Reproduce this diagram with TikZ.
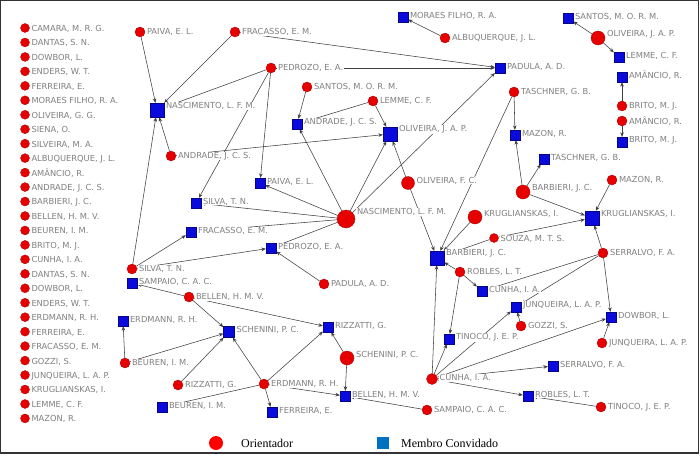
\documentclass[tikz,border=0pt]{standalone}
\usepackage{fontspec}
\setmainfont{DejaVu Sans}
\newfontfamily\legendfont{Liberation Serif}
\usetikzlibrary{arrows.meta}
\pgfdeclarelayer{bglayer}
\pgfdeclarelayer{edgelayer}
\pgfdeclarelayer{labellayer}
\pgfsetlayers{bglayer,edgelayer,labellayer,main}
\definecolor{nodered}{HTML}{E60000}
\definecolor{nodeblue}{HTML}{0A0ADC}
\definecolor{lblgray}{HTML}{808080}
\definecolor{edgegray}{HTML}{404040}
\definecolor{legblue}{HTML}{0070C0}
\tikzset{
  rdot/.style={circle, fill=nodered, draw=nodered!70!black, line width=0.3pt, inner sep=0pt},
  bsq/.style={rectangle, fill=nodeblue, draw=nodeblue!60!black, line width=0.3pt, inner sep=0pt},
  lbl/.style={anchor=west, fill=white, text=lblgray, font=\fontsize{8.3}{9}\selectfont, inner xsep=0.8pt, inner ysep=0.3pt},
  link/.style={draw=edgegray, line width=0.55pt, -{Stealth[length=4.5pt,width=3.6pt]}},
  legtext/.style={anchor=west, inner sep=0pt, font=\legendfont\fontsize{12}{14}\selectfont},
}
\newcommand\Rv[5]{\node[rdot, minimum size=#4*2pt] (#1) at (#2,#3) {};
  \begin{pgfonlayer}{labellayer}\node[lbl] (#1-l) at ({#2+#4+1},{#3-1.7*(#4-5)}) {#5};\end{pgfonlayer}}
\newcommand\Bv[5]{\node[bsq, minimum size=#4pt] (#1) at (#2,#3) {};
  \begin{pgfonlayer}{labellayer}\node[lbl] (#1-l) at ({#2+#4/2+1},{#3-1.5-0.7*(#4-10)}) {#5};\end{pgfonlayer}}
\begin{document}
\begin{tikzpicture}[x=1pt,y=-1pt]
\useasboundingbox (0,0) rectangle (700,457);
\begin{pgfonlayer}{bglayer}
\fill[white] (0,0) rectangle (700,457);
\end{pgfonlayer}
\draw[black!80, line width=1.4pt] (0.7,0.7) rectangle (698.3,453);
% left column
\foreach \t [count=\i from 0] in {{CAMARA, M. R. G.},{DANTAS, S. N.},{DOWBOR, L.},{ENDERS, W. T.},{FERREIRA, E.},{MORAES FILHO, R. A.},{OLIVEIRA, G. G.},{SIENA, O.},{SILVEIRA, M. A.},{ALBUQUERQUE, J. L.},{AMÂNCIO, R.},{ANDRADE, J. C. S.},{BARBIERI, J. C.},{BELLEN, H. M. V.},{BEUREN, I. M.},{BRITO, M. J.},{CUNHA, I. A.},{DANTAS, S. N.},{DOWBOR, L.},{ENDERS, W. T.},{ERDMANN, R. H.},{FERREIRA, E.},{FRACASSO, E. M.},{GOZZI, S.},{JUNQUEIRA, L. A. P.},{KRUGLIANSKAS, I.},{LEMME, C. F.},{MAZON, R.}}
  {\Rv{L\i}{25}{28+14.46*\i}{4.5}{\t}}
% red nodes
\Rv{rPaiva}{140}{32}{5}{PAIVA, E. L.}
\Rv{rFracasso}{235}{32}{5}{FRACASSO, E. M.}
\Rv{rPedrozo}{271}{68}{5}{PEDROZO, E. A.}
\Rv{rAlbu}{445}{38}{5}{ALBUQUERQUE, J. L.}
\Rv{rSantos}{307}{87}{5}{SANTOS, M. O. R. M.}
\Rv{rLemme}{373}{101}{5}{LEMME, C. F.}
\Rv{rAndrade}{171}{156}{5}{ANDRADE, J. C. S.}
\Rv{rNasc}{346}{219}{9}{NASCIMENTO, L. F. M.}
\Rv{rOlivFC}{408}{183}{6.5}{OLIVEIRA, F. C.}
\Rv{rSilva}{132}{269}{5}{SILVA, T. N.}
\Rv{rPadula}{324}{284}{5}{PADULA, A. D.}
\Rv{rBellen}{189}{297}{5}{BELLEN, H. M. V.}
\Rv{rBeuren}{125}{363}{5}{BEUREN, I. M.}
\Rv{rRizz}{178}{385}{5}{RIZZATTI, G.}
\Rv{rErd}{264}{384}{5}{ERDMANN, R. H.}
\Rv{rSchen}{347}{358}{7}{SCHENINI, P. C.}
\Rv{rSampaio}{427}{410}{5}{SAMPAIO, C. A. C.}
\Rv{rOlivJAP}{598}{38}{7}{OLIVEIRA, J. A. P.}
\Rv{rBrito}{622}{106}{5}{BRITO, M. J.}
\Rv{rAmancio}{622}{121}{5}{AMÂNCIO, R.}
\Rv{rTaschner}{514}{92}{5}{TASCHNER, G. B.}
\Rv{rBarbieri}{523}{192}{7}{BARBIERI, J. C.}
\Rv{rMazon}{612}{180}{5}{MAZON, R.}
\Rv{rKrug}{475}{217}{7}{KRUGLIANSKAS, I.}
\Rv{rSouza}{494}{238}{4.5}{SOUZA, M. T. S.}
\Rv{rRobles}{460}{272}{5}{ROBLES, L. T.}
\Rv{rSerralvo}{603}{253}{5}{SERRALVO, F. A.}
\Rv{rGozzi}{521}{326}{5}{GOZZI, S.}
\Rv{rJunq}{602}{343}{5}{JUNQUEIRA, L. A. P.}
\Rv{rCunha}{432}{379}{5.5}{CUNHA, I. A.}
\Rv{rTinoco}{601}{407}{5}{TINOCO, J. E. P.}
% blue nodes
\Bv{bNasc}{157}{110}{14}{NASCIMENTO, L. F. M.}
\Bv{bMoraes}{403}{17}{10}{MORAES FILHO, R. A.}
\Bv{bPadula}{500}{68}{10}{PADULA, A. D.}
\Bv{bAndrade}{297}{124}{10}{ANDRADE, J. C. S.}
\Bv{bOlivJAP}{390}{134}{14}{OLIVEIRA, J. A. P.}
\Bv{bPaiva}{260}{183}{10}{PAIVA, E. L.}
\Bv{bSilva}{196}{203}{10}{SILVA, T. N.}
\Bv{bFracasso}{191}{232}{10}{FRACASSO, E. M.}
\Bv{bPedrozo}{271}{248}{10}{PEDROZO, E. A.}
\Bv{bSampaio}{132}{283}{10}{SAMPAIO, C. A. C.}
\Bv{bErd}{123}{321}{10}{ERDMANN, R. H.}
\Bv{bSchen}{229}{332}{11}{SCHENINI, P. C.}
\Bv{bRizz}{328}{327}{10}{RIZZATTI, G.}
\Bv{bBeuren}{162}{407}{10}{BEUREN, I. M.}
\Bv{bFerreira}{272}{412}{10}{FERREIRA, E.}
\Bv{bBellen}{345}{396}{10}{BELLEN, H. M. V.}
\Bv{bSantos}{568}{18}{10}{SANTOS, M. O. R. M.}
\Bv{bLemme}{619}{57}{10}{LEMME, C. F.}
\Bv{bAmancio}{622}{77}{10}{AMÂNCIO, R.}
\Bv{bBrito}{622}{142}{10}{BRITO, M. J.}
\Bv{bMazon}{515}{135}{10}{MAZON, R.}
\Bv{bTaschner}{544}{159}{10}{TASCHNER, G. B.}
\Bv{bKrug}{592}{218}{14}{KRUGLIANSKAS, I.}
\Bv{bBarbieri}{437}{258}{14}{BARBIERI, J. C.}
\Bv{bCunha}{482}{291}{10}{CUNHA, I. A.}
\Bv{bJunq}{516}{307}{10}{JUNQUEIRA, L. A. P.}
\Bv{bDowbor}{611}{317}{10}{DOWBOR, L.}
\Bv{bTinoco}{449}{339}{10}{TINOCO, J. E. P.}
\Bv{bSerralvo}{553}{366}{10}{SERRALVO, F. A.}
\Bv{bRobles}{528}{396}{10}{ROBLES, L. T.}
% edges
\begin{pgfonlayer}{edgelayer}
\foreach \a/\b in {rPaiva/bNasc, rFracasso/bNasc, rFracasso/bPadula, rPedrozo/bNasc, rPedrozo/bPadula, rPedrozo/bPaiva, rPedrozo/bSilva, rAndrade/bNasc, rAndrade/bOlivJAP, rSilva/bNasc, rSilva/bFracasso, rSilva/bPedrozo, rAlbu/bMoraes, rSantos/bAndrade, rLemme/bAndrade, rLemme/bOlivJAP, rNasc/bAndrade, rNasc/bOlivJAP, rNasc/bPadula, rNasc/bPaiva, rNasc/bSilva, rNasc/bFracasso, rNasc/bPedrozo, rPadula/bPedrozo, rOlivFC/bOlivJAP, rOlivFC/bBarbieri, rTaschner/bMazon, rTaschner/bBarbieri, rBarbieri/bMazon, rBarbieri/bTaschner, rBarbieri/bKrug, rMazon/bKrug, rSouza/bKrug, rSouza/bBarbieri, rKrug/bBarbieri, rRobles/bBarbieri, rRobles/bCunha, rRobles/bTinoco, rCunha/bBarbieri, rCunha/bTinoco, rCunha/bJunq, rCunha/bDowbor, rCunha/bSerralvo, rCunha/bRobles, rSerralvo/bKrug, rSerralvo/bCunha, rSerralvo/bJunq, rSerralvo/bDowbor, rGozzi/bJunq, rJunq/bDowbor, rTinoco/bRobles, rSampaio/bBellen, rSchen/bRizz, rSchen/bBellen, rErd/bSchen, rErd/bFerreira, rErd/bBellen, rErd/bRizz, rErd/bBeuren, rBellen/bSchen, rBellen/bRizz, rBellen/bSampaio, rBeuren/bErd, rBeuren/bSchen, rRizz/bSchen, rOlivJAP/bSantos, rOlivJAP/bLemme, rBrito/bAmancio, rAmancio/bBrito}
  {\draw[link] (\a) -- (\b);}
\end{pgfonlayer}
% legend
\node[circle, fill=red, inner sep=0pt, minimum size=14pt] (legR) at (216,443) {};
\node[legtext] (legRt) at (241,443) {Orientador};
\node[rectangle, fill=legblue, inner sep=0pt, minimum size=12pt] (legB) at (383,443) {};
\node[legtext] (legBt) at (401,443) {Membro Convidado};
\end{tikzpicture}
\end{document}
